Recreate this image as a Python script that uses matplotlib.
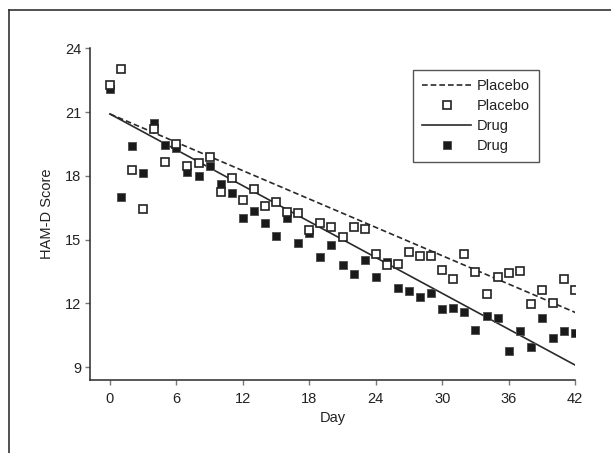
import matplotlib
matplotlib.use("Agg")
import matplotlib.pyplot as plt
from matplotlib.lines import Line2D

plt.rcParams['font.family'] = ['Liberation Sans', 'DejaVu Sans']

days = list(range(0, 43))
placebo = [22.27, 23.01, 18.27, 16.42, 20.22, 18.63, 19.50, 18.48, 18.62, 18.87,
           17.25, 17.91, 16.86, 17.39, 16.58, 16.78, 16.31, 16.25, 15.45, 15.76,
           15.57, 15.12, 15.60, 15.51, 14.32, 13.80, 13.85, 14.43, 14.22, 14.24,
           13.57, 13.14, 14.32, 13.49, 12.45, 13.25, 13.41, 13.52, 11.98, 12.62,
           12.03, 13.13, 12.61]
drug = [22.07, 16.99, 19.42, 18.13, 20.47, 19.43, 19.31, 18.19, 17.99, 18.48,
        17.60, 17.17, 16.03, 16.33, 15.79, 15.18, 16.00, 14.82, 15.29, 14.16,
        14.74, 13.80, 13.38, 14.05, 13.25, 13.96, 12.72, 12.58, 12.28, 12.48,
        11.71, 11.76, 11.60, 10.76, 11.42, 11.31, 9.75, 10.71, 9.96, 11.29,
        10.35, 10.69, 10.58]
fit_days = [0, 42]
placebo_fit = [20.91, 11.57]
drug_fit = [20.91, 9.09]
xticks = [0, 6, 12, 18, 24, 30, 36, 42]
yticks = [9, 12, 15, 18, 21, 24]

fig = plt.figure(figsize=(6.11, 4.53), dpi=100)
W, H = 611, 453
ax = fig.add_axes([90.4 / W, 1 - 380 / H, (575.2 - 90.4) / W, (380 - 48.3) / H])

dark = '#2a2a2a'
dash = (0, (3.4, 1.8))
ax.plot(fit_days, placebo_fit, linestyle=dash, color=dark, lw=1.2, zorder=2)
ax.plot(fit_days, drug_fit, linestyle='-', color=dark, lw=1.2, zorder=2)
ax.plot(days, drug, linestyle='none', marker='s', markersize=5.8,
        markerfacecolor='#1a1a1a', markeredgecolor='#555555', markeredgewidth=0.7, zorder=3)
ax.plot(days, placebo, linestyle='none', marker='s', markersize=5.6,
        markerfacecolor='white', markeredgecolor='#222222', markeredgewidth=1.2, zorder=4)

ax.set_xlim(-1.76, 42)
ax.set_ylim(8.39, 24)
ax.set_xticks(xticks)
ax.set_yticks(yticks)
for s in ['top', 'right']:
    ax.spines[s].set_visible(False)
for s in ['left', 'bottom']:
    ax.spines[s].set_color(dark)
    ax.spines[s].set_linewidth(1.1)
ax.tick_params(axis='both', direction='out', length=3.5, width=1.0, color='#777777',
               labelsize=10.5, labelcolor='#222222')
ax.tick_params(axis='x', pad=5)
ax.tick_params(axis='y', pad=3)
ax.set_xlabel('Day', fontsize=10.5, color='#222222', labelpad=4)
ax.set_ylabel('HAM-D Score', fontsize=10.5, color='#222222', labelpad=8)

handles = [
    Line2D([], [], linestyle=dash, color=dark, lw=1.2),
    Line2D([], [], linestyle='none', marker='s', markersize=5.6, markerfacecolor='white',
           markeredgecolor='#222222', markeredgewidth=1.2),
    Line2D([], [], linestyle='-', color=dark, lw=1.2),
    Line2D([], [], linestyle='none', marker='s', markersize=5.8, markerfacecolor='#1a1a1a',
           markeredgecolor='#555555', markeredgewidth=0.7),
]
labels = ['Placebo', 'Placebo', 'Drug', 'Drug']
leg = ax.legend(handles, labels, loc='upper left', bbox_to_anchor=(413 / W, 1 - 70 / H),
                bbox_transform=fig.transFigure, fontsize=10.5, frameon=True, fancybox=False,
                handlelength=3.4, handletextpad=0.4, labelspacing=0.42, borderpad=0.6,
                borderaxespad=0)
leg.get_frame().set_edgecolor(dark)
leg.get_frame().set_linewidth(1.0)
for t in leg.get_texts():
    t.set_color('#222222')

# outer frame
fig.add_artist(Line2D([9 / W, 9 / W], [0, 1 - 10 / H], transform=fig.transFigure,
                      color='#333333', lw=1.2))
fig.add_artist(Line2D([9 / W, 1], [1 - 10 / H, 1 - 10 / H], transform=fig.transFigure,
                      color='#333333', lw=1.2))

fig.savefig('out.png', dpi=100)
